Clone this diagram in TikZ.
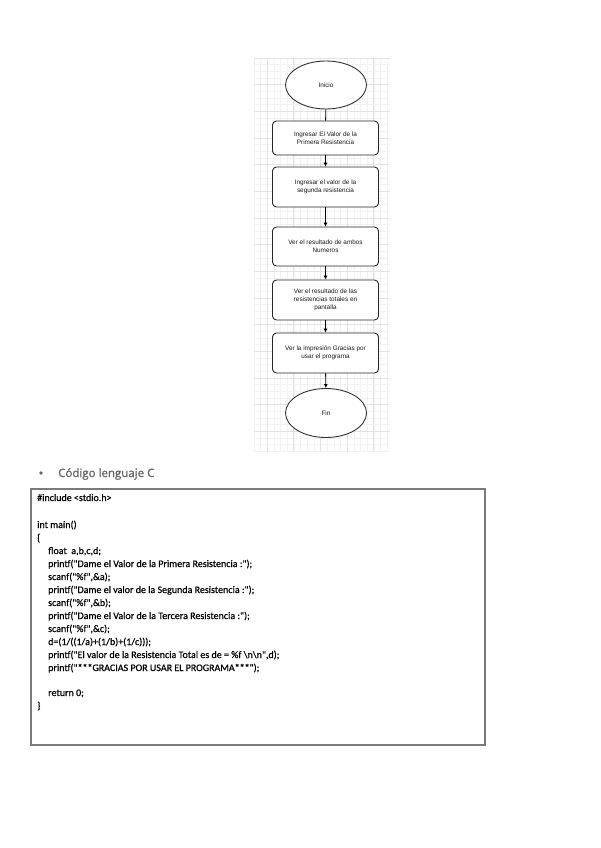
\documentclass[tikz,border=0pt]{standalone}
\usepackage{fontspec}
\setmainfont{Liberation Sans}
\newfontfamily\codefont[FakeBold=0.6]{Carlito}
\newfontfamily\headfont[FakeBold=1.2]{Open Sans}
\usetikzlibrary{arrows.meta,shapes.geometric}
\definecolor{gridminor}{gray}{0.95}
\definecolor{gridmajor}{gray}{0.89}
\definecolor{headgray}{HTML}{656565}
\definecolor{boxgray}{HTML}{7A7A7A}
\tikzset{
  flowbox/.style={draw=black!85, line width=0.9pt, rounded corners=4pt, fill=white,
    minimum width=106pt, align=center, font=\fontsize{6.4}{8}\selectfont, text=black!90, inner sep=1pt},
  termnode/.style={ellipse, draw=black!80, line width=0.9pt, fill=white,
    minimum width=81pt, minimum height=48pt, font=\fontsize{6.4}{8}\selectfont, text=black!90},
  flowarrow/.style={draw=black, line width=0.9pt, -{Latex[length=4pt,width=4pt]}},
  flowline/.style={draw=black, line width=0.9pt},
  codeline/.style={anchor=base west, inner sep=0pt, font=\codefont\fontsize{10}{11}\selectfont, text=black}
}
\begin{document}
\begin{tikzpicture}[x=1pt,y=-1pt]
\useasboundingbox (0,0) rectangle (600,848);
% grid background
\fill[white] (254,58) rectangle (390,452);
\foreach \i in {0,...,20} {
  \draw[gridminor, line width=0.4pt] ({253.7+6.667*\i},58) -- ({253.7+6.667*\i},452);
}
\foreach \j in {0,...,59} {
  \draw[gridminor, line width=0.4pt] (254,{58+6.667*\j}) -- (390,{58+6.667*\j});
}
\foreach \i in {0,...,4} {
  \draw[gridmajor, line width=0.5pt] ({267+26.667*\i},58) -- ({267+26.667*\i},452);
}
\foreach \j in {0,...,14} {
  \draw[gridmajor, line width=0.5pt] (254,{58+26.667*\j}) -- (390,{58+26.667*\j});
}

% flowchart
\node[termnode] (ini) at (326,85) {Inicio};
\node[flowbox, minimum height=34pt] (b1) at (325.5,138) {Ingresar El Valor de la\\Primera Resistencia};
\node[flowbox, minimum height=40pt] (b2) at (325.5,187) {Ingresar el valor de la\\segunda resistencia};
\node[flowbox, minimum height=39pt] (b3) at (325.5,246.5) {Ver el resultado de ambos\\Numeros};
\node[flowbox, minimum height=40pt] (b4) at (325.5,300) {Ver el resultado de las\\resistencias totales en\\pantalla};
\node[flowbox, minimum height=40pt] (b5) at (325.5,353) {Ver la impresión Gracias por\\usar el programa};
\node[termnode, minimum height=49pt] (fin) at (326,413) {Fin};

\draw[flowline] (ini) -- (b1);
\draw[flowarrow] (b1) -- (b2);
\draw[flowarrow] (b2) -- (b3);
\draw[flowarrow] (b3) -- (b4);
\draw[flowarrow] (b4) -- (b5);
\draw[flowarrow] (b5) -- (fin);

% heading
\node[circle, fill=headgray, inner sep=0pt, minimum size=3.6pt] (bul) at (41,473) {};
\node[anchor=base west, inner sep=0pt, text=headgray, font=\headfont\fontsize{11.5}{13}\selectfont] (head) at (58,477) {Código lenguaje C};

% code box
\draw[boxgray, line width=1.2pt] (31,489) rectangle (485,745);
\node[codeline] (l1) at (37,501) {\#include <stdio.h>};
\node[codeline] (l2) at (37,528) {int main()};
\node[codeline] (l3) at (37,541) {\{};
\node[codeline] (l4) at (48,554) {float\ \ a,b,c,d;};
\node[codeline] (l5) at (48,567) {printf("Dame el Valor de la Primera Resistencia :");};
\node[codeline] (l6) at (48,580) {scanf("\%f",\&a);};
\node[codeline] (l7) at (48,593) {printf("Dame el valor de la Segunda Resistencia :");};
\node[codeline] (l8) at (48,606) {scanf("\%f",\&b);};
\node[codeline] (l9) at (48,619) {printf("Dame el Valor de la Tercera Resistencia :");};
\node[codeline] (l10) at (48,632) {scanf("\%f",\&c);};
\node[codeline] (l11) at (48,645) {d=(1/((1/a)+(1/b)+(1/c)));};
\node[codeline] (l12) at (48,658) {printf("El valor de la Resistencia Total es de = \%f \textbackslash n\textbackslash n",d);};
\node[codeline] (l13) at (48,671) {printf("***GRACIAS POR USAR EL PROGRAMA***");};
\node[codeline] (l14) at (48,696) {return 0;};
\node[codeline] (l15) at (37,709) {\}};
\end{tikzpicture}
\end{document}
